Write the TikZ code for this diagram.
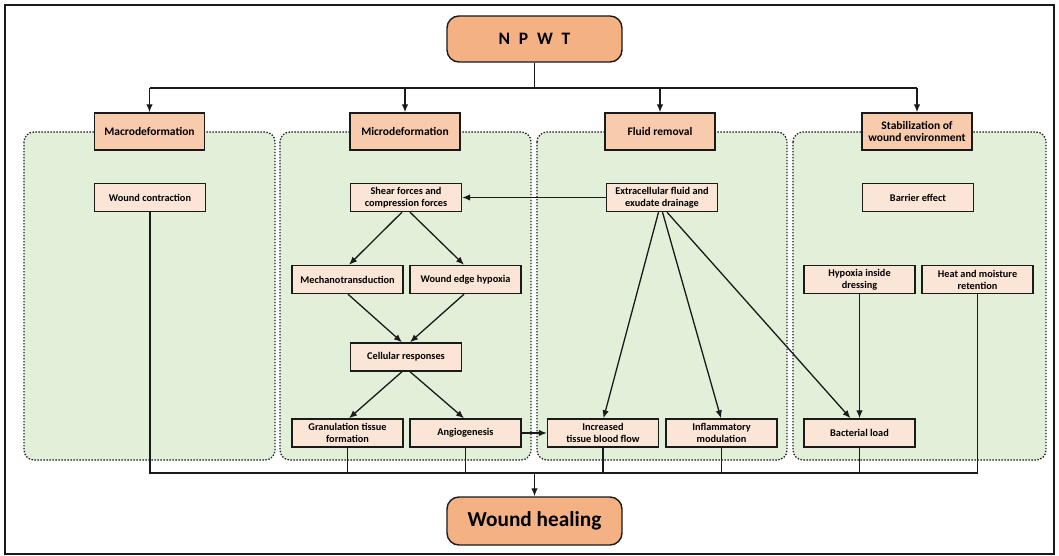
\documentclass[tikz,border=0pt]{standalone}
\usepackage{fontspec}
\setmainfont{Carlito}
\usetikzlibrary{arrows.meta,calc}
\definecolor{topfill}{HTML}{F4B183}
\definecolor{hdrfill}{HTML}{F8CBAD}
\definecolor{smfill}{HTML}{FBE5D6}
\definecolor{panfill}{HTML}{E2F0D9}
\definecolor{ink}{HTML}{1A1A1A}
\begin{document}
\begin{tikzpicture}[x=1pt,y=-1pt,
  bigbox/.style={draw=ink,line width=1.4pt,fill=topfill,rounded corners=12pt,minimum width=175pt,inner sep=0pt,font=\bfseries},
  hdrbox/.style={draw=ink,line width=1.4pt,fill=hdrfill,minimum width=110pt,minimum height=37pt,inner sep=1pt,align=center,font=\bfseries\fontsize{11.5}{13}\selectfont},
  smbox/.style={draw=ink,line width=1.4pt,fill=smfill,minimum width=111pt,minimum height=28pt,inner sep=1pt,align=center,font=\bfseries\fontsize{10.3}{12}\selectfont},
  panel/.style={draw=ink,fill=panfill,line width=1.3pt,dash pattern=on 1.4pt off 1.6pt,rounded corners=10pt},
  conn/.style={draw=ink,line width=1.3pt},
  arr/.style={conn,-{Latex[length=8pt,width=6.5pt]}}
]
\useasboundingbox (0,0) rectangle (1059,556);
\draw[draw=ink,line width=1.4pt,fill=white] (5,5) rectangle (1054,554);
% panels
\draw[panel] (24,132) rectangle (275,460);
\draw[panel] (280,132) rectangle (531,460);
\draw[panel] (537,132) rectangle (787,460);
\draw[panel] (793,132) rectangle (1046,460);
% top
\node[bigbox,minimum height=46pt,font=\bfseries\fontsize{17.5}{19}\selectfont] (npwt) at (534.5,39) {N\,\,\,P\,\,\,W\,\,\,T};
\node[bigbox,minimum height=48pt,font=\bfseries\fontsize{21.3}{23}\selectfont] (wh) at (534.5,521) {Wound healing};
% headers
\node[hdrbox] (macro) at (149.5,131.5) {Macrodeformation};
\node[hdrbox] (micro) at (405,131.5) {Microdeformation};
\node[hdrbox] (fluid) at (660,131.5) {Fluid removal};
\node[hdrbox] (stab) at (917,131.5) {Stabilization of\\wound environment};
% small boxes
\node[smbox] (wc) at (150,197.5) {Wound contraction};
\node[smbox] (shear) at (406,197.5) {Shear forces and\\compression forces};
\node[smbox] (ext) at (662,197.5) {Extracellular fluid and\\exudate drainage};
\node[smbox] (barrier) at (918,197.5) {Barrier effect};
\node[smbox] (mech) at (347.5,279.5) {Mechanotransduction};
\node[smbox] (weh) at (465.5,279.5) {Wound edge hypoxia};
\node[smbox] (hyp) at (859.5,279.5) {Hypoxia inside\\dressing};
\node[smbox] (heat) at (977.5,279.5) {Heat and moisture\\retention};
\node[smbox] (cell) at (406,357) {Cellular responses};
\node[smbox] (gran) at (347.5,433) {Granulation tissue\\formation};
\node[smbox] (ang) at (465.5,433) {Angiogenesis};
\node[smbox] (inc) at (603,433) {Increased\\tissue blood flow};
\node[smbox] (infl) at (721.5,433) {Inflammatory\\modulation};
\node[smbox] (bact) at (859.5,433) {Bacterial load};
% top bus
\coordinate (tb) at (534.5,88);
\draw[conn] (npwt.south) -- (tb);
\draw[conn] (macro.north |- tb) -- (stab.north |- tb);
\foreach \n in {macro,micro,fluid,stab}{
  \draw[arr] (\n.north |- tb) -- (\n.north);
}
% micro arrows
\draw[arr] (ext.west) -- (shear.east);
\draw[arr] ([xshift=-4pt]shear.south) -- ([xshift=1.5pt]mech.north);
\draw[arr] ([xshift=4pt]shear.south) -- ([xshift=-1.5pt]weh.north);
\draw[arr] ([xshift=0.5pt]mech.south) -- ([xshift=-4pt]cell.north);
\draw[arr] ([xshift=-1.5pt]weh.south) -- ([xshift=4pt]cell.north);
\draw[arr] ([xshift=-4pt]cell.south) -- ([xshift=1.5pt]gran.north);
\draw[arr] ([xshift=4pt]cell.south) -- ([xshift=-1.5pt]ang.north);
\draw[arr] (ang.east) -- (inc.west);
% fluid arrows
\draw[arr] ([xshift=-3.5pt]ext.south) -- ([xshift=0.5pt]inc.north);
\draw[arr] ([xshift=0.5pt]ext.south) -- ([xshift=-0.5pt]infl.north);
\draw[arr] ([xshift=5pt]ext.south) -- ([xshift=-9pt]bact.north);
\draw[arr] (hyp.south) -- (bact.north);
% bottom bus
\coordinate (bb) at (150,473);
\draw[conn] (wc.south) -- (bb) -- (bb -| heat.south) -- (heat.south);
\foreach \n in {gran,ang,inc,infl,bact}{
  \draw[conn] (\n.south) -- (\n.south |- bb);
}
\draw[arr] (wh.north |- bb) -- (wh.north);
\end{tikzpicture}
\end{document}
